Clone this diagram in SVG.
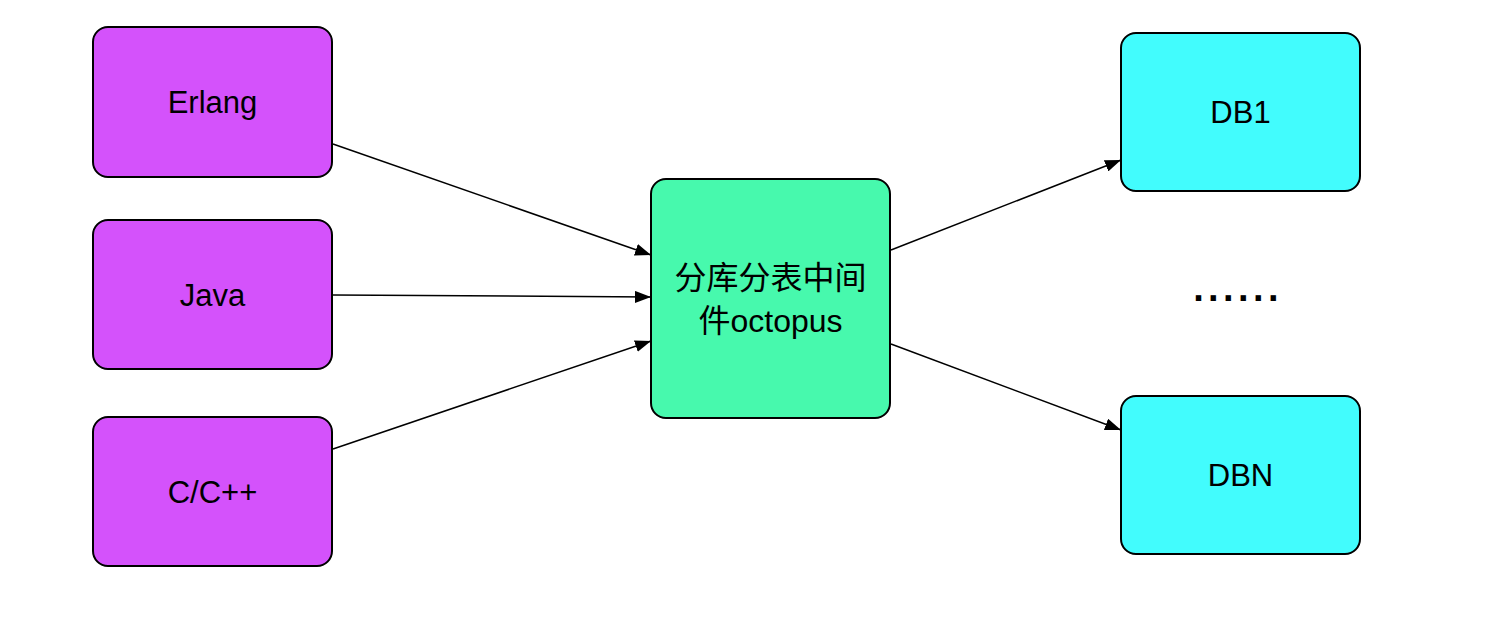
<svg xmlns="http://www.w3.org/2000/svg" width="1498" height="618" viewBox="0 0 1498 618">
<style>
.box{stroke:#000;stroke-width:2}
.lang{fill:#d452fb}
.mid{fill:#47f9ad}
.db{fill:#42fcfd}
.t{font-family:"Liberation Sans","Noto Sans CJK SC",sans-serif;font-size:31px;fill:#000;text-anchor:middle}
.c{stroke:#000;stroke-width:1.5;fill:none;marker-end:url(#arr)}
</style>
<defs>
<marker id="arr" viewBox="0 0 16 12" refX="16" refY="6" markerWidth="16" markerHeight="12" markerUnits="userSpaceOnUse" orient="auto">
<path d="M0,0 L16,6 L0,12 Z" fill="#000"/>
</marker>
</defs>
<rect width="1498" height="618" fill="#fff"/>
<g id="connectors">
<line class="c" x1="333" y1="144" x2="651" y2="255"/>
<line class="c" x1="333" y1="295" x2="651" y2="297"/>
<line class="c" x1="333" y1="449" x2="651" y2="341"/>
<line class="c" x1="891" y1="250" x2="1121" y2="160"/>
<line class="c" x1="891" y1="344" x2="1121" y2="430"/>
</g>
<g id="erlang"><rect class="box lang" x="93" y="27" width="239" height="150" rx="15"/><text class="t" x="212.5" y="113">Erlang</text></g>
<g id="java"><rect class="box lang" x="93" y="220" width="239" height="149" rx="15"/><text class="t" x="212.5" y="306">Java</text></g>
<g id="cpp"><rect class="box lang" x="93" y="417" width="239" height="149" rx="15"/><text class="t" x="212.5" y="503">C/C++</text></g>
<g id="octopus"><rect class="box mid" x="651" y="179" width="239" height="239" rx="15"/><text class="t" x="770.5" y="289" style="font-size:32px">分库分表中间</text><text class="t" x="770.5" y="332" style="font-size:32px">件octopus</text></g>
<g id="db1"><rect class="box db" x="1121" y="33" width="239" height="158" rx="15"/><text class="t" x="1240.5" y="123">DB1</text></g>
<g id="dots"><text class="t" x="1238" y="301" style="font-size:38px;font-weight:bold;letter-spacing:4.4px">......</text></g>
<g id="dbn"><rect class="box db" x="1121" y="396" width="239" height="158" rx="15"/><text class="t" x="1240.5" y="486">DBN</text></g>
</svg>
